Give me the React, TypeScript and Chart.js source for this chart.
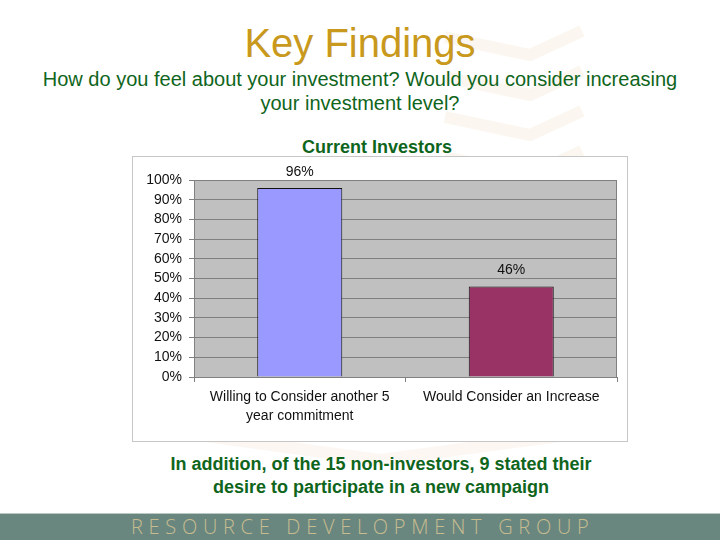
import React, { useEffect, useRef } from "react";
import { Chart, registerables } from "chart.js";

Chart.register(...registerables);

const categories: (string | string[])[] = [
  ["Willing to Consider another 5", "year commitment"],
  "Would Consider an Increase",
];
const values: number[] = [96, 46];
const barColors: string[] = ["#9999FF", "#993366"];
const yTicks: number[] = [0, 10, 20, 30, 40, 50, 60, 70, 80, 90, 100];

const FONT = "'Liberation Sans', Arial, Helvetica, sans-serif";
const GREEN = "#0F651C";

function ChartBox() {
  const ref = useRef<HTMLCanvasElement | null>(null);
  useEffect(() => {
    if (!ref.current) return;
    const bgPlugin = {
      id: "plotBg",
      beforeDraw(chart: any) {
        const { ctx, chartArea: a } = chart;
        ctx.save();
        ctx.fillStyle = "#C0C0C0";
        ctx.fillRect(a.left, a.top, a.right - a.left, a.bottom - a.top);
        ctx.restore();
      },
      afterDatasetsDraw(chart: any) {
        const { ctx, chartArea: a } = chart;
        ctx.save();
        ctx.strokeStyle = "#808080";
        ctx.lineWidth = 1;
        ctx.strokeRect(Math.round(a.left) + 0.5, Math.round(a.top) + 0.5, Math.round(a.right - a.left) - 1, Math.round(a.bottom - a.top));
        const meta = chart.getDatasetMeta(0);
        ctx.fillStyle = "#111";
        ctx.font = "14px " + FONT;
        ctx.textAlign = "center";
        ctx.textBaseline = "middle";
        meta.data.forEach((bar: any, i: number) => {
          ctx.fillText(values[i] + "%", bar.x, bar.y - 16);
        });
        ctx.restore();
      },
    };
    const chart = new Chart(ref.current, {
      type: "bar",
      data: {
        labels: categories,
        datasets: [
          {
            data: values,
            backgroundColor: barColors,
            borderColor: "#111",
            borderWidth: 1,
            categoryPercentage: 1,
            barPercentage: 0.402,
          },
        ],
      },
      options: {
        animation: false,
        responsive: false,
        devicePixelRatio: 1,
        layout: { padding: { top: 23, right: 10, left: 0, bottom: 0 } },
        plugins: { legend: { display: false }, tooltip: { enabled: false }, title: { display: false } },
        scales: {
          x: {
            afterFit(scale: any) {
              scale.height = 64;
            },
            grid: {
              offset: true,
              drawOnChartArea: false,
              drawTicks: true,
              tickLength: 5,
              tickColor: "#808080",
            },
            border: { display: true, color: "#808080" },
            ticks: {
              color: "#111",
              font: { family: FONT, size: 14, lineHeight: 1.36 },
              padding: 6,
              maxRotation: 0,
              autoSkip: false,
            },
          },
          y: {
            min: 0,
            max: 100,
            afterFit(scale: any) {
              scale.width = 61;
            },
            afterBuildTicks(scale: any) {
              scale.ticks = yTicks.map((v) => ({ value: v }));
            },
            grid: {
              color: "#808080",
              drawTicks: true,
              tickLength: 5,
              tickColor: "#808080",
            },
            border: { display: true, color: "#808080" },
            ticks: {
              color: "#111",
              font: { family: FONT, size: 14 },
              padding: 7,
              autoSkip: false,
              callback: (v: any) => v + "%",
            },
          },
        },
      },
      plugins: [bgPlugin],
    });
    return () => chart.destroy();
  }, []);
  return <canvas ref={ref} width={494} height={284} style={{ display: "block", width: 494, height: 284 }} />;
}

export default function App() {
  const chevronYs = [55, 95, 135, 175];
  return (
    <div
      style={{
        position: "fixed",
        left: 0,
        top: 0,
        width: 720,
        height: 540,
        overflow: "hidden",
        background: "#ffffff",
        fontFamily: FONT,
      }}
    >
      <svg width={720} height={540} style={{ position: "absolute", left: 0, top: 0 }}>
        {chevronYs.map((y) => (
          <polyline
            key={y}
            points={`445,${y - 18} 530,${y} 582,${y - 24}`}
            fill="none"
            stroke="#FBF7F0"
            strokeWidth={12}
          />
        ))}
        <polyline points="190,434 380,460 575,434" fill="none" stroke="#FCF7F3" strokeWidth={12} />
      </svg>
      <div
        style={{
          position: "absolute",
          left: 0,
          width: 720,
          top: 20,
          textAlign: "center",
          fontSize: 40,
          lineHeight: "46px",
          color: "#C8991C",
        }}
      >
        Key Findings
      </div>
      <div
        style={{
          position: "absolute",
          left: 0,
          width: 720,
          top: 67,
          textAlign: "center",
          fontSize: 20,
          lineHeight: "24px",
          color: GREEN,
        }}
      >
        How do you feel about your investment? Would you consider increasing
        <br />
        your investment level?
      </div>
      <div
        style={{
          position: "absolute",
          left: 127,
          width: 500,
          top: 137,
          textAlign: "center",
          fontSize: 18,
          fontWeight: "bold",
          lineHeight: "20px",
          color: GREEN,
        }}
      >
        Current Investors
      </div>
      <div
        style={{
          position: "absolute",
          left: 132,
          top: 156,
          width: 496,
          height: 286,
          boxSizing: "border-box",
          border: "1px solid #C6C6C6",
          background: "#ffffff",
        }}
      >
        <ChartBox />
      </div>
      <div
        style={{
          position: "absolute",
          left: 131,
          width: 500,
          top: 453,
          textAlign: "center",
          fontSize: 18,
          fontWeight: "bold",
          lineHeight: "22.5px",
          color: GREEN,
        }}
      >
        In addition, of the 15 non-investors, 9 stated their
        <br />
        desire to participate in a new campaign
      </div>
      <div
        style={{
          position: "absolute",
          left: 0,
          top: 513,
          width: 720,
          height: 27,
          background: "#6A877F",
          borderTop: "1px solid #B9C9C4",
          boxSizing: "border-box",
        }}
      >
        <div
          style={{
            position: "absolute",
            left: 131,
            top: 0,
            whiteSpace: "nowrap",
            fontFamily: "'Open Sans', 'DejaVu Sans', sans-serif",
            fontWeight: 300,
            fontSize: 20,
            lineHeight: "26px",
            letterSpacing: "5.7px",
            color: "#C7BC8F",
          }}
        >
          RESOURCE DEVELOPMENT GROUP
        </div>
      </div>
    </div>
  );
}
